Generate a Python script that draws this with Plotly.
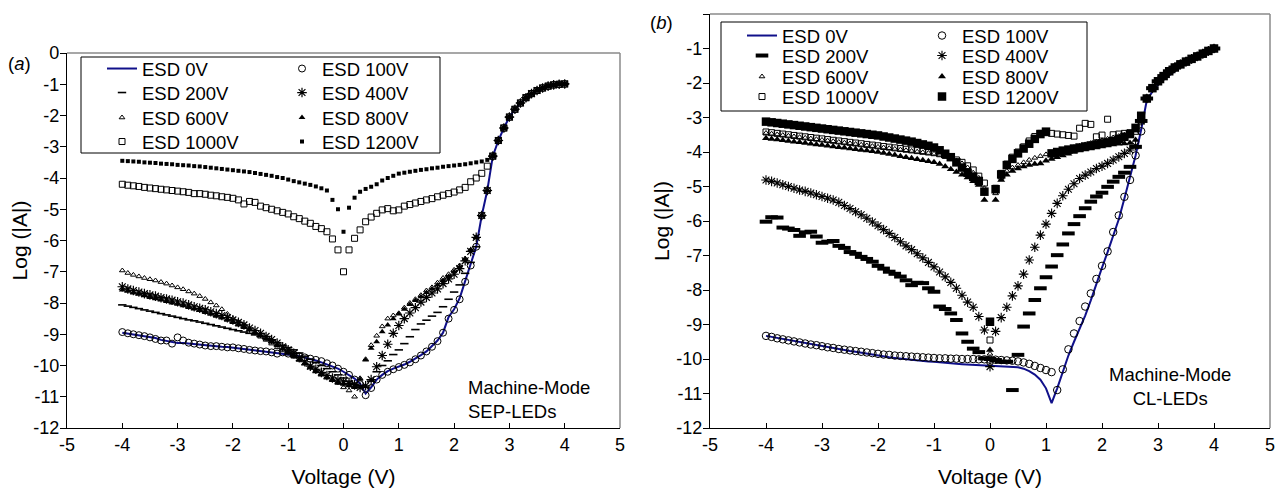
import plotly.graph_objects as go

# ---------------- data ----------------
VOLT = [round(-4 + 0.1 * i, 1) for i in range(81)]          # measurement grid, -4 ... 4 V

SERIES_NAMES = ["ESD 0V", "ESD 100V", "ESD 200V", "ESD 400V",
                "ESD 600V", "ESD 800V", "ESD 1000V", "ESD 1200V"]

Y_TICKVALS = [0, -1, -2, -3, -4, -5, -6, -7, -8, -9, -10, -11, -12]
Y_TICKTEXT = ["0", "-1", "-2", "-3", "-4", "-5", "-6", "-7", "-8", "-9", "-10", "-11", "-12"]
X_TICKVALS = [-5, -4, -3, -2, -1, 0, 1, 2, 3, 4, 5]
X_TICKTEXT = ["-5", "-4", "-3", "-2", "-1", "0", "1", "2", "3", "4", "5"]

# ---- panel (a) SEP-LEDs : common forward branch 2.7 ... 4.0 V
A_TAIL = [-3.3, -2.8, -2.4, -2.05, -1.8, -1.6, -1.43, -1.3, -1.2, -1.12, -1.06, -1.02, -1.0, -0.99]

A_0V = [-8.95, -8.98, -9.0, -9.03, -9.05, -9.08, -9.12, -9.18, -9.22, -9.25,
        -9.28, -9.28, -9.3, -9.32, -9.33, -9.35, -9.37, -9.38, -9.4, -9.41,
        -9.43, -9.45, -9.47, -9.5, -9.52, -9.54, -9.56, -9.58, -9.6, -9.63,
        -9.65, -9.67, -9.7, -9.74, -9.79, -9.84, -9.9, -9.96, -10.02, -10.1,
        -10.2, -10.3, -10.42, -10.58, -10.9, -10.7, -10.45, -10.3, -10.18, -10.1,
        -10.04, -9.97, -9.88, -9.78, -9.67, -9.55, -9.38, -9.2, -8.95, -8.45,
        -8.2, -7.85, -7.3, -6.78, -6.2, -5.2, -4.4] + A_TAIL
A_100V = [-8.93, -8.97, -9.0, -9.03, -9.06, -9.1, -9.15, -9.2, -9.2, -9.3,
          -9.1, -9.2, -9.27, -9.3, -9.33, -9.36, -9.38, -9.38, -9.4, -9.42,
          -9.42, -9.45, -9.47, -9.5, -9.52, -9.54, -9.55, -9.58, -9.62, -9.58,
          -9.62, -9.65, -9.7, -9.74, -9.78, -9.82, -9.86, -9.93, -10.0, -10.1,
          -10.2, -10.3, -10.45, -10.6, -10.95, -10.72, -10.45, -10.3, -10.2, -10.12,
          -10.05, -9.98, -9.9, -9.8, -9.68, -9.55, -9.4, -9.22, -8.95, -8.5,
          -8.22, -7.88, -7.32, -6.8, -6.2, -5.2, -4.4] + A_TAIL
A_200V = [-8.06, -8.1, -8.14, -8.18, -8.22, -8.26, -8.3, -8.34, -8.38, -8.42,
          -8.46, -8.5, -8.54, -8.57, -8.61, -8.65, -8.69, -8.73, -8.77, -8.81,
          -8.85, -8.89, -8.93, -8.97, -9.02, -9.07, -9.13, -9.2, -9.27, -9.35,
          -9.43, -9.5, -9.6, -9.7, -9.8, -9.9, -10.0, -10.1, -10.2, -10.3,
          -10.4, -10.5, -10.6, -10.65, -10.7, -10.5, -10.2, -10.0, -9.85, -9.65,
          -9.5, -9.3, -9.08, -8.85, -8.67, -8.55, -8.42, -8.3, -8.12, -7.88,
          -7.65, -7.42, -7.05, -6.7, -6.2, -5.2, -4.4] + A_TAIL
A_400V = [-7.48, -7.55, -7.6, -7.65, -7.7, -7.74, -7.78, -7.83, -7.87, -7.91,
          -7.96, -8.0, -8.06, -8.12, -8.17, -8.22, -8.28, -8.34, -8.4, -8.47,
          -8.54, -8.62, -8.7, -8.8, -8.88, -8.97, -9.07, -9.17, -9.28, -9.4,
          -9.5, -9.61, -9.75, -9.88, -10.02, -10.12, -10.22, -10.32, -10.4, -10.47,
          -10.52, -10.58, -10.62, -10.7, -10.65, -10.45, -10.04, -9.68, -9.32, -8.97,
          -8.72, -8.5, -8.32, -8.15, -7.97, -7.82, -7.68, -7.55, -7.38, -7.23,
          -7.08, -6.9, -6.65, -6.35, -5.9, -5.2, -4.4] + A_TAIL
A_600V = [-6.96, -7.04, -7.1, -7.15, -7.2, -7.24, -7.28, -7.33, -7.38, -7.44,
          -7.5, -7.56, -7.63, -7.7, -7.78, -7.87, -7.98, -8.08, -8.2, -8.35,
          -8.5, -8.6, -8.7, -8.82, -8.95, -9.08, -9.18, -9.3, -9.42, -9.52,
          -9.62, -9.72, -9.82, -9.92, -10.03, -10.14, -10.25, -10.36, -10.46, -10.56,
          -10.7, -10.8, -11.0, -10.41, -9.8, -9.35, -9.05, -8.75, -8.5, -8.4,
          -8.33, -8.15, -8.0, -7.88, -7.75, -7.6, -7.5, -7.35, -7.2, -7.08,
          -6.94, -6.8, -6.58, -6.3, -5.9, -5.2, -4.4] + A_TAIL
A_800V = [-7.58, -7.62, -7.68, -7.72, -7.77, -7.82, -7.86, -7.9, -7.95, -8.0,
          -8.04, -8.09, -8.14, -8.19, -8.24, -8.3, -8.36, -8.42, -8.48, -8.55,
          -8.62, -8.7, -8.78, -8.86, -8.95, -9.05, -9.15, -9.25, -9.36, -9.47,
          -9.58, -9.7, -9.82, -9.95, -10.08, -10.2, -10.3, -10.4, -10.48, -10.55,
          -10.6, -10.65, -10.7, -10.44, -9.82, -9.45, -9.24, -8.92, -8.7, -8.5,
          -8.35, -8.2, -8.05, -7.92, -7.8, -7.66, -7.55, -7.42, -7.28, -7.15,
          -7.0, -6.85, -6.6, -6.3, -5.9, -5.2, -4.4] + A_TAIL
A_1000V = [-4.2, -4.23, -4.25, -4.27, -4.3, -4.32, -4.34, -4.36, -4.38, -4.4,
           -4.42, -4.44, -4.46, -4.5, -4.5, -4.52, -4.55, -4.57, -4.6, -4.62,
           -4.65, -4.7, -4.83, -4.75, -4.78, -4.9, -4.95, -5.0, -5.05, -5.1,
           -5.15, -5.24, -5.3, -5.38, -5.45, -5.55, -5.62, -5.72, -5.95, -6.3,
           -7.0, -6.3, -5.93, -5.66, -5.4, -5.25, -5.13, -5.02, -4.98, -5.05,
           -5.02, -4.9, -4.85, -4.8, -4.75, -4.7, -4.66, -4.6, -4.55, -4.5,
           -4.45, -4.38, -4.3, -4.12, -4.0, -3.85, -3.62] + A_TAIL
A_1200V = [-3.45, -3.46, -3.47, -3.48, -3.5, -3.51, -3.52, -3.54, -3.55, -3.56,
           -3.58, -3.59, -3.6, -3.62, -3.63, -3.65, -3.67, -3.69, -3.71, -3.73,
           -3.75, -3.77, -3.79, -3.81, -3.84, -3.87, -3.9, -3.93, -3.97, -4.0,
           -4.05, -4.1, -4.14, -4.18, -4.22, -4.27, -4.33, -4.4, -4.7, -5.0,
           -5.72, -4.95, -4.63, -4.44, -4.35, -4.28, -4.2, -4.08, -4.0, -3.93,
           -3.86, -3.83, -3.8, -3.77, -3.74, -3.72, -3.69, -3.67, -3.64, -3.62,
           -3.6, -3.58, -3.56, -3.53, -3.5, -3.47, -3.42] + A_TAIL

# ---- panel (b) CL-LEDs : common forward branch 2.8 ... 4.0 V
B_TAIL = [-2.45, -2.15, -1.95, -1.8, -1.66, -1.55, -1.46, -1.38, -1.3, -1.23, -1.15, -1.07, -1.0]

B_0V = [-9.33, -9.36, -9.39, -9.42, -9.45, -9.48, -9.52, -9.55, -9.58, -9.61,
        -9.64, -9.67, -9.69, -9.72, -9.74, -9.77, -9.79, -9.82, -9.85, -9.88,
        -9.9, -9.93, -9.95, -9.97, -9.99, -10.01, -10.02, -10.04, -10.05, -10.07,
        -10.08, -10.1, -10.12, -10.13, -10.14, -10.15, -10.16, -10.17, -10.17, -10.18,
        -10.18, -10.19, -10.2, -10.21, -10.22, -10.24, -10.28, -10.35, -10.45, -10.6,
        -10.85, -11.28, -10.85, -10.35, -9.9, -9.5, -9.12, -8.74, -8.3, -7.8,
        -7.35, -6.9, -6.45, -5.95, -5.35, -4.72, -4.1, -3.35,
        -2.5, -2.25, -2.05, -1.9, -1.77, -1.66, -1.54, -1.44, -1.35, -1.27, -1.18, -1.1, -1.02]
B_100V = [-9.33, -9.36, -9.4, -9.43, -9.46, -9.49, -9.52, -9.55, -9.58, -9.6,
          -9.63, -9.66, -9.68, -9.71, -9.73, -9.75, -9.77, -9.79, -9.81, -9.83,
          -9.85, -9.87, -9.88, -9.9, -9.91, -9.92, -9.93, -9.94, -9.95, -9.96,
          -9.97, -9.98, -9.98, -9.99, -9.99, -10.0, -10.0, -10.0, -10.01, -10.01,
          -10.02, -10.02, -10.03, -10.04, -10.05, -10.07, -10.1, -10.14, -10.2, -10.26,
          -10.32, -10.38, -10.9, -10.3, -9.72, -9.26, -8.9, -8.48, -8.1, -7.68,
          -7.3, -6.88, -6.32, -5.84, -5.3, -4.81, -4.1, -3.4] + B_TAIL
B_200V = [-6.02, -5.89, -5.9, -6.19, -6.22, -6.26, -6.43, -6.33, -6.31, -6.45,
          -6.63, -6.6, -6.58, -6.72, -6.78, -6.9, -6.95, -7.04, -7.1, -7.18,
          -7.3, -7.38, -7.47, -7.53, -7.61, -7.72, -7.86, -7.79, -7.8, -7.95,
          -8.05, -8.48, -8.55, -8.68, -8.87, -9.26, -9.5, -9.7, -9.8, -9.98,
          -10.0, -10.03, -10.08, -10.08, -10.9, -9.88, -9.06, -8.68, -8.29, -7.95,
          -7.63, -7.32, -6.99, -6.68, -6.36, -6.09, -5.86, -5.63, -5.44, -5.29,
          -5.18, -5.01, -4.86, -4.72, -4.6, -4.43, -3.85, -3.1] + B_TAIL
B_400V = [-4.81, -4.85, -4.9, -4.95, -5.0, -5.05, -5.1, -5.14, -5.19, -5.24,
          -5.29, -5.34, -5.39, -5.46, -5.55, -5.64, -5.73, -5.82, -5.92, -6.03,
          -6.14, -6.25, -6.36, -6.48, -6.6, -6.72, -6.83, -6.95, -7.07, -7.2,
          -7.33, -7.48, -7.62, -7.78, -7.95, -8.15, -8.35, -8.5, -8.77, -9.16,
          -10.22, -9.2, -8.8, -8.5, -8.17, -7.88, -7.54, -7.13, -6.76, -6.41,
          -6.09, -5.78, -5.49, -5.27, -5.08, -4.92, -4.77, -4.67, -4.58, -4.48,
          -4.41, -4.33, -4.23, -4.14, -4.04, -3.94, -3.82, -3.1] + B_TAIL
B_600V = [-3.45, -3.47, -3.49, -3.51, -3.53, -3.55, -3.57, -3.59, -3.61, -3.63,
          -3.65, -3.67, -3.69, -3.71, -3.73, -3.75, -3.77, -3.79, -3.81, -3.83,
          -3.85, -3.87, -3.89, -3.91, -3.93, -3.95, -3.97, -3.99, -4.01, -4.03,
          -4.05, -4.08, -4.12, -4.18, -4.25, -4.33, -4.45, -4.6, -4.75, -5.05,
          -9.85, -5.2, -4.75, -4.55, -4.45, -4.38, -4.3, -4.23, -4.17, -4.12,
          -4.07, -4.03, -3.98, -3.94, -3.9, -3.86, -3.82, -3.78, -3.74, -3.7,
          -3.66, -3.62, -3.58, -3.54, -3.5, -3.45, -3.38, -3.1] + B_TAIL
B_800V = [-3.6, -3.62, -3.64, -3.66, -3.68, -3.7, -3.72, -3.74, -3.76, -3.78,
          -3.8, -3.82, -3.84, -3.86, -3.88, -3.9, -3.92, -3.94, -3.96, -3.98,
          -4.0, -4.03, -4.06, -4.09, -4.12, -4.15, -4.18, -4.21, -4.24, -4.27,
          -4.3, -4.35, -4.42, -4.5, -4.58, -4.66, -4.74, -4.85, -4.96, -5.39,
          -9.74, -5.39, -4.81, -4.66, -4.55, -4.48, -4.42, -4.38, -4.35, -4.33,
          -4.25, -4.2, -4.15, -4.1, -4.05, -4.0, -3.96, -3.93, -3.9, -3.87,
          -3.84, -3.81, -3.78, -3.76, -3.75, -3.74, -3.65, -3.1] + B_TAIL
B_1000V = [-3.42, -3.44, -3.46, -3.48, -3.5, -3.52, -3.54, -3.56, -3.58, -3.6,
           -3.62, -3.64, -3.66, -3.68, -3.7, -3.72, -3.74, -3.76, -3.78, -3.8,
           -3.82, -3.84, -3.86, -3.88, -3.9, -3.92, -3.94, -3.96, -3.98, -4.0,
           -4.02, -4.05, -4.1, -4.16, -4.23, -4.3, -4.4, -4.52, -4.7, -4.9,
           -9.45, -5.05, -4.62, -4.35, -4.15, -4.0, -3.85, -3.68, -3.55, -3.46,
           -3.44, -3.46, -3.48, -3.5, -3.52, -3.54, -3.31, -3.17, -3.2, -3.56,
           -3.51, -3.05, -3.5, -3.48, -3.46, -3.44, -3.4, -3.1] + B_TAIL
B_1200V = [-3.12, -3.14, -3.16, -3.18, -3.2, -3.22, -3.24, -3.26, -3.28, -3.3,
           -3.32, -3.34, -3.36, -3.38, -3.4, -3.42, -3.44, -3.46, -3.48, -3.5,
           -3.52, -3.55, -3.58, -3.61, -3.64, -3.67, -3.7, -3.74, -3.78, -3.82,
           -3.87, -3.95, -4.05, -4.15, -4.3, -4.45, -4.6, -4.72, -4.84, -5.15,
           -8.92, -5.08, -4.65, -4.38, -4.2, -4.04, -3.9, -3.76, -3.62, -3.48,
           -3.41, -4.04, -4.0, -3.96, -3.93, -3.9, -3.87, -3.84, -3.81, -3.78,
           -3.75, -3.72, -3.68, -3.62, -3.56, -3.48, -3.3, -2.95] + B_TAIL

PANEL_A = [A_0V, A_100V, A_200V, A_400V, A_600V, A_800V, A_1000V, A_1200V]
PANEL_B = [B_0V, B_100V, B_200V, B_400V, B_600V, B_800V, B_1000V, B_1200V]
for s in PANEL_A + PANEL_B:
    assert len(s) == len(VOLT), len(s)

# ---------------- styles ----------------
FONT = "Arial, 'Liberation Sans', Helvetica, sans-serif"
NAVY = "#10108a"
PAGE_OFF = 8                      # default body margin of the html page
W, H = 1283 - PAGE_OFF, 491 - PAGE_OFF

def px_x(p):
    return (p - PAGE_OFF) / W

def px_y(p):
    return 1 - (p - PAGE_OFF) / H

STYLE_A = [
    None,
    dict(symbol="circle-open", size=7, color="black", line=dict(width=1, color="black")),
    dict(symbol="line-ew-open", size=6, color="black", line=dict(width=1.6, color="black")),
    dict(symbol="asterisk-open", size=8, color="black", line=dict(width=1.2, color="black")),
    dict(symbol="triangle-up-open", size=5, color="black", line=dict(width=1, color="black")),
    dict(symbol="triangle-up", size=6, color="black", line=dict(width=0)),
    dict(symbol="square-open", size=6, color="black", line=dict(width=1, color="black")),
    dict(symbol="square", size=4, color="black", line=dict(width=0)),
]
STYLE_B = [
    None,
    dict(symbol="circle-open", size=7.5, color="black", line=dict(width=1, color="black")),
    dict(symbol="line-ew-open", size=9, color="black", line=dict(width=4, color="black")),
    dict(symbol="asterisk-open", size=8, color="black", line=dict(width=1.1, color="black")),
    dict(symbol="triangle-up-open", size=5, color="black", line=dict(width=1, color="black")),
    dict(symbol="triangle-up", size=7, color="black", line=dict(width=0)),
    dict(symbol="square-open", size=6, color="black", line=dict(width=1, color="black")),
    dict(symbol="square", size=8.5, color="black", line=dict(width=0)),
]

# legend grid (row centres / column left edges, in pixels) for each panel
A_LEG_ROWS = [69, 93, 118, 142]
A_LEG_COLS = [102, 282]
B_LEG_ROWS = [36, 56, 77, 97]
B_LEG_COLS = [742, 922]
A_LEG_BOX = [81, 57, 440, 153]
B_LEG_BOX = [721, 22, 1087, 111]

fig = go.Figure()
legend_layouts = {}
leg_counter = [0]

def add_panel(data, styles, xa, ya, rows, cols):
    for i, (name, ys, st) in enumerate(zip(SERIES_NAMES, data, styles)):
        leg_counter[0] += 1
        key = "legend" if leg_counter[0] == 1 else "legend%d" % leg_counter[0]
        legend_layouts[key] = dict(
            x=px_x(cols[i % 2]), y=px_y(rows[i // 2]), xanchor="left", yanchor="middle",
            orientation="v", bgcolor="rgba(0,0,0,0)", borderwidth=0,
            font=dict(size=18.5, family=FONT, color="black"))
        if st is None:
            fig.add_trace(go.Scatter(x=VOLT, y=ys, name=name, mode="lines",
                                     line=dict(color=NAVY, width=2),
                                     xaxis=xa, yaxis=ya, legend=key))
        else:
            fig.add_trace(go.Scatter(x=VOLT, y=ys, name=name, mode="markers",
                                     marker=st, xaxis=xa, yaxis=ya, legend=key))

add_panel(PANEL_A, STYLE_A, "x", "y", A_LEG_ROWS, A_LEG_COLS)
add_panel(PANEL_B, STYLE_B, "x2", "y2", B_LEG_ROWS, B_LEG_COLS)

axis_common = dict(showline=True, linecolor="black", linewidth=1.2, showgrid=False,
                   zeroline=False, automargin=False,
                   tickfont=dict(size=18, color="black", family=FONT), tickcolor="black")
xcommon = dict(axis_common, range=[-5, 5], tickvals=X_TICKVALS, ticktext=X_TICKTEXT,
               ticks="inside", ticklen=5,
               title=dict(text="Voltage (V)", font=dict(size=21, family=FONT, color="black"), standoff=15))
ycommon = dict(axis_common, range=[-12, 0], tickvals=Y_TICKVALS, ticktext=Y_TICKTEXT,
               ticks="outside", ticklen=6, ticklabelstandoff=-3,
               title=dict(text="Log (|A|)", font=dict(size=21, family=FONT, color="black"), standoff=0))

fig.update_layout(
    width=W, height=H, autosize=False,
    margin=dict(l=0, r=0, t=0, b=0, autoexpand=False),
    paper_bgcolor="white", plot_bgcolor="white",
    font=dict(family=FONT, color="black"),
    xaxis=dict(xcommon, domain=[px_x(67), px_x(620)], anchor="y"),
    yaxis=dict(ycommon, domain=[px_y(428), px_y(53)], anchor="x"),
    xaxis2=dict(xcommon, domain=[px_x(710), px_x(1270)], anchor="y2"),
    yaxis2=dict(ycommon, domain=[px_y(428), px_y(14)], anchor="x2"),
    showlegend=True,
    **legend_layouts,
)

# legend frames
for (x0, y0, x1, y1) in (A_LEG_BOX, B_LEG_BOX):
    fig.add_shape(type="rect", xref="paper", yref="paper",
                  x0=px_x(x0), x1=px_x(x1), y0=px_y(y1), y1=px_y(y0),
                  line=dict(color="black", width=1), fillcolor="white", layer="above")

# grey top / right frame lines
for xr, yr in (("x domain", "y domain"), ("x2 domain", "y2 domain")):
    fig.add_shape(type="line", xref=xr, yref=yr, x0=0, x1=1, y0=1, y1=1,
                  line=dict(color="#8a8a8a", width=1.5))
    fig.add_shape(type="line", xref=xr, yref=yr, x0=1, x1=1, y0=0, y1=1,
                  line=dict(color="#8a8a8a", width=1.5))

ann_font = dict(size=18.5, family=FONT, color="black")
fig.add_annotation(text="(<i>a</i>)", xref="paper", yref="paper", x=px_x(20), y=px_y(64),
                   xanchor="center", yanchor="middle", showarrow=False, font=ann_font)
fig.add_annotation(text="(<i>b</i>)", xref="paper", yref="paper", x=px_x(661), y=px_y(23),
                   xanchor="center", yanchor="middle", showarrow=False, font=ann_font)
fig.add_annotation(text="Machine-Mode<br>SEP-LEDs", xref="paper", yref="paper",
                   x=px_x(466), y=px_y(399), xanchor="left", yanchor="middle", align="left",
                   showarrow=False, font=ann_font)
fig.add_annotation(text="Machine-Mode<br>CL-LEDs", xref="paper", yref="paper",
                   x=px_x(1170), y=px_y(386), xanchor="center", yanchor="middle", align="center",
                   showarrow=False, font=ann_font)

fig.write_html("out.html")
